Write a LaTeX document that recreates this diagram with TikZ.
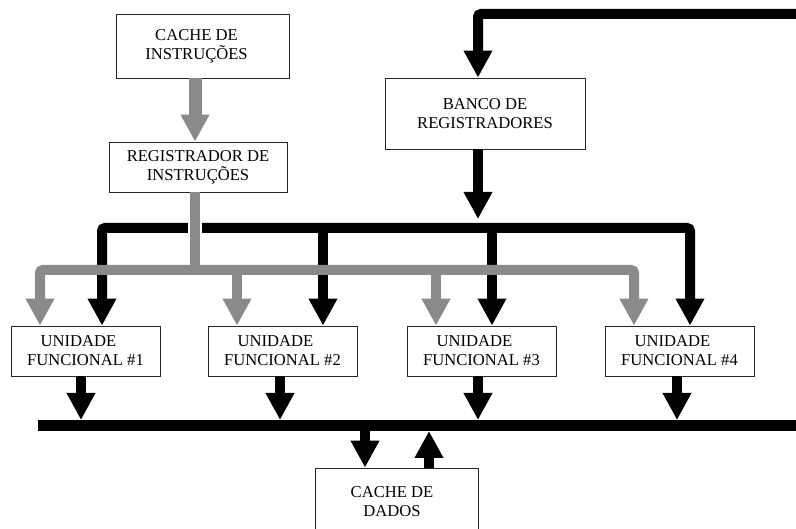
\documentclass[tikz,border=0pt]{standalone}
\usepackage{fontspec}
\setmainfont{Liberation Serif}
\usetikzlibrary{arrows.meta}
\definecolor{gr}{RGB}{138,137,140}
\tikzset{
  Tri/.tip={Triangle[width=27pt,length=27pt]},
  box/.style={draw=black!85, line width=0.8pt, fill=white, inner sep=0pt, align=center,
              font=\fontsize{16.6}{19}\selectfont},
  blk/.style={draw=black, line width=10pt},
  gry/.style={draw=gr, line width=10pt},
  casing/.style={draw=white, line width=14pt}
}
\begin{document}
\begin{tikzpicture}[x=1pt,y=-1pt]
\useasboundingbox (0,0) rectangle (796,529);
\clip (0,0) rectangle (796,529);
\fill[white] (0,0) rectangle (796,529);

% boxes
\node[box, minimum width=173pt, minimum height=64pt] (ci) at (202.5,46) {CACHE DE\hspace*{12pt}\\INSTRUÇÕES\hspace*{12pt}};
\node[box, minimum width=178pt, minimum height=50pt] (ri) at (198,167) {REGISTRADOR DE\\INSTRUÇÕES};
\node[box, minimum width=200pt, minimum height=71pt] (bank) at (485,113.5) {BANCO DE\\REGISTRADORES};
\node[box, minimum width=149pt, minimum height=50pt] (u1) at (85.5,351) {UNIDADE\hspace*{14pt}\\FUNCIONAL \#1};
\node[box, minimum width=149pt, minimum height=50pt] (u2) at (282.5,351) {UNIDADE\hspace*{14pt}\\FUNCIONAL \#2};
\node[box, minimum width=149pt, minimum height=50pt] (u3) at (481.5,351) {UNIDADE\hspace*{14pt}\\FUNCIONAL \#3};
\node[box, minimum width=149pt, minimum height=50pt] (u4) at (679.5,351) {UNIDADE\hspace*{14pt}\\FUNCIONAL \#4};
\node[box, minimum width=163pt, minimum height=68pt] (cd) at (396.5,502) {CACHE DE\hspace*{9pt}\\DADOS\hspace*{9pt}};

% coordinates
\coordinate (topR) at (810,14);
\coordinate (ubar) at (0,228);
\coordinate (gbar) at (0,270);
\coordinate (bankT) at (0,219);
\coordinate (busT) at (0,420);
\coordinate (busB) at (0,431);
\coordinate (busL) at (38,425.5);
\coordinate (busR) at (810,425.5);

% black: register bank input
\draw[blk, rounded corners=3pt, -{Tri}] (topR) -| ([xshift=-7pt]bank.north);
% register bank output
\draw[blk, -{Tri}] ([xshift=-7pt]bank.south) -- ([xshift=-7pt]bank.south |- bankT);
% black distribution bar
\coordinate (b1) at ([xshift=16.5pt]u1.north);
\coordinate (b2) at ([xshift=40.5pt]u2.north);
\coordinate (b3) at ([xshift=10.5pt]u3.north);
\coordinate (b4) at ([xshift=10.5pt]u4.north);
\draw[blk, rounded corners=3pt, {Tri}-{Tri}] (b1) -- (b1 |- ubar) -- (b4 |- ubar) -- (b4);
\draw[blk, -{Tri}] (b2 |- ubar) -- (b2);
\draw[blk, -{Tri}] (b3 |- ubar) -- (b3);

% gray: instruction path
\draw[gry, line width=13pt, -{Tri}] ([xshift=-7.5pt]ci.south) -- ([xshift=-3pt]ri.north);
\coordinate (gv) at ([xshift=-3pt]ri.south);
\draw[casing] (gv |- 0,216) -- (gv |- 0,240);
\draw[gry] (gv) -- (gv |- gbar);
\coordinate (g1) at ([xshift=-45.5pt]u1.north);
\coordinate (g2) at ([xshift=-45.5pt]u2.north);
\coordinate (g3) at ([xshift=-45.5pt]u3.north);
\coordinate (g4) at ([xshift=-45.5pt]u4.north);
\draw[gry, rounded corners=3pt, {Tri}-{Tri}] (g1) -- (g1 |- gbar) -- (g4 |- gbar) -- (g4);
\draw[gry, -{Tri}] (g2 |- gbar) -- (g2);
\draw[gry, -{Tri}] (g3 |- gbar) -- (g3);

% result bus
\draw[blk, line width=11pt] (busL) -- (busR);
\draw[blk, -{Tri}] ([xshift=-4.5pt]u1.south) -- ([xshift=-4.5pt]u1.south |- busT);
\draw[blk, -{Tri}] ([xshift=-2.5pt]u2.south) -- ([xshift=-2.5pt]u2.south |- busT);
\draw[blk, -{Tri}] ([xshift=-3.5pt]u3.south) -- ([xshift=-3.5pt]u3.south |- busT);
\draw[blk, -{Tri}] ([xshift=-2.5pt]u4.south) -- ([xshift=-2.5pt]u4.south |- busT);

% data cache
\draw[blk, -{Tri}] ([xshift=-31.5pt]cd.north |- busB) -- ([xshift=-31.5pt]cd.north);
\draw[blk, -{Tri}] ([xshift=32.5pt]cd.north) -- ([xshift=32.5pt]cd.north |- busB);
\end{tikzpicture}
\end{document}
